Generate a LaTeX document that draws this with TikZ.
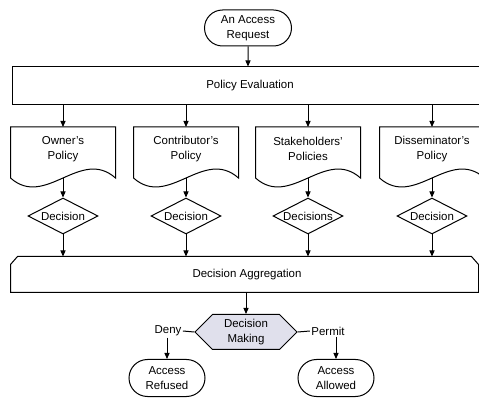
\documentclass[tikz,border=0pt]{standalone}
\usepackage{fontspec}
\setmainfont{Liberation Sans}
\usetikzlibrary{arrows.meta,shapes.geometric,shapes.misc,shapes.symbols}

\definecolor{mkfill}{RGB}{224,224,236}

\tikzset{every picture/.style={line width=0.75pt}}
\tikzset{
  arr/.style={-{Triangle[length=4.5pt,width=3.8pt]}},
  txt/.style={font=\fontsize{8.6}{11.2}\selectfont, align=center, inner sep=0.75pt},
  term/.style={txt, draw, rounded rectangle, minimum width=66.75pt, minimum height=27pt},
  bar/.style={txt, draw, minimum width=357pt, minimum height=28.5pt},
  docbox/.style={txt, anchor=north, minimum width=78pt, minimum height=32.25pt},
  dec/.style={draw, diamond, fill=white, minimum width=52.5pt, minimum height=27pt, inner sep=0pt},
  aggbox/.style={txt, minimum width=350.25pt, minimum height=26.25pt},
  making/.style={txt, draw, fill=mkfill, signal, signal to=west and east, minimum width=76.5pt, minimum height=26.25pt, inner sep=0pt}
}

\begin{document}
\begin{tikzpicture}[x=0.75pt,y=0.75pt,yscale=-1,xscale=1]
  \useasboundingbox (0,0) rectangle (479,399);

  % request and evaluation
  \node[term] (req) at (248,28) {An Access\\Request};
  \node[bar] (peval) at (250,86) {Policy Evaluation};
  \draw[arr] (req) -- (req |- peval.north);

  % aggregation bar
  \node[aggbox] (agg) at (244.5,274.5) {};
  \draw ([shift={(0,8)}]agg.north west) -- ([shift={(7,0)}]agg.north west) -- ([shift={(-7,0)}]agg.north east) -- ([shift={(0,8)}]agg.north east) -- (agg.south east) -- (agg.south west) -- cycle;
  \node[txt] (aggtxt) at (247,274.5) {Decision Aggregation};

  % policies and their decisions
  \foreach \i/\x/\pol/\dtxt in {1/63/{Owner's\\Policy}/Decision,
                                2/186/{Contributor's\\Policy}/Decision,
                                3/308/{Stakeholders'\\Policies}/Decisions,
                                4/432/{Disseminator's\\Policy}/Decision} {
    \node[docbox] (d\i) at (\x,127) {\pol};
    \draw (d\i.north west) -- ([shift={(0,7)}]d\i.south west)
      .. controls +(35,31) and +(-35,-31) .. ([shift={(0,7)}]d\i.south east)
      -- (d\i.north east) -- cycle;
    \node[dec, label={[txt]center:\dtxt}] (c\i) at (\x,216) {};
    \draw[arr] (peval.south -| d\i.north) -- (d\i.north);
    \draw[arr] ([shift={(0,7)}]d\i.south) -- (c\i.north);
    \draw[arr] (c\i.south) -- (agg.north -| c\i.south);
  }

  % decision making
  \node[making] (mk) at (246,332) {Decision\\Making};
  \draw[arr] (agg.south -| mk.north) -- (mk.north);
  \node[txt] (deny) at (168,331) {Deny};
  \node[txt] (permit) at (328,331) {Permit};
  \draw (mk.west) -- (deny.east);
  \draw (mk.east) -- (permit.west);

  % outcomes
  \node[term, minimum width=58.5pt, minimum height=27.75pt] (refused) at (167,378) {Access\\Refused};
  \node[term, minimum width=58.5pt, minimum height=27.75pt] (allowed) at (336,378) {Access\\Allowed};
  \draw[arr] (deny.south -| refused.north) -- (refused.north);
  \draw[arr] (permit.south -| allowed.north) -- (allowed.north);
\end{tikzpicture}
\end{document}
